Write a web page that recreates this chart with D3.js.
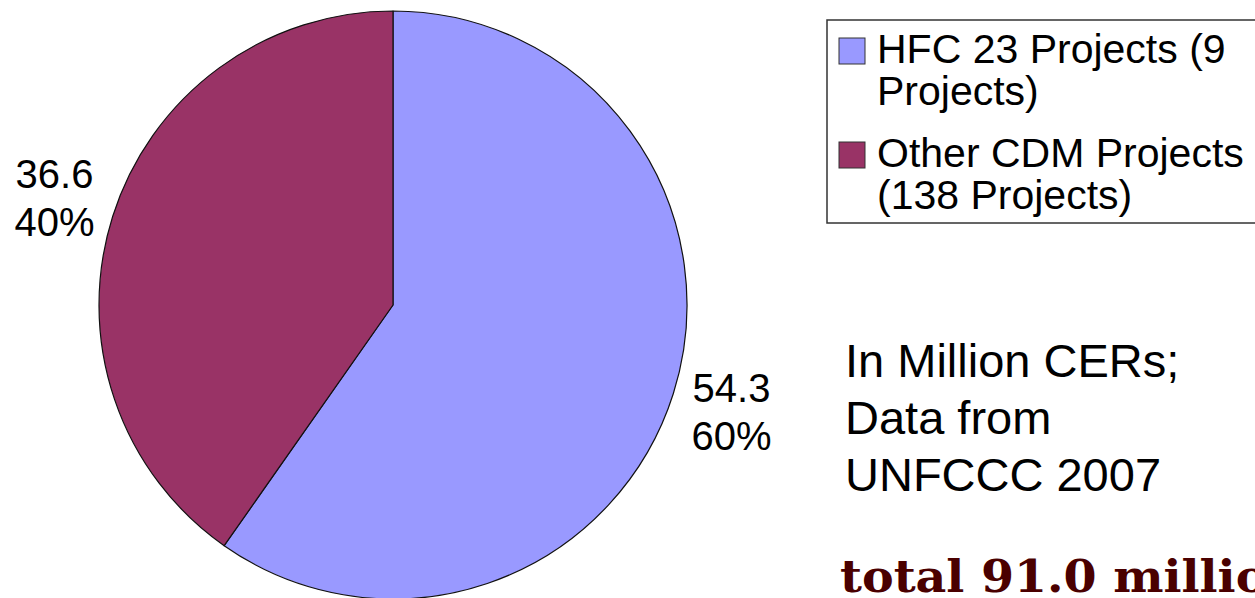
<!DOCTYPE html>
<html>
<head>
<meta charset="utf-8">
<script src="https://cdn.jsdelivr.net/npm/d3@7"></script>
<style>
  html, body { margin: 0; padding: 0; background: #fff; }
  svg { display: block; }
</style>
</head>
<body>
<div id="chart"></div>
<script>
// Datos del gráfico
const categories = ['HFC 23 Projects (9 Projects)', 'Other CDM Projects (138 Projects)'];
const values = [54.3, 36.6];
const colors = ['#9999FF', '#993366'];
const legendLines = [['HFC 23 Projects (9', 'Projects)'], ['Other CDM Projects', '(138 Projects)']];
const noteLines = ['In Million CERs;', 'Data from', 'UNFCCC 2007'];
const totalLabel = 'total 91.0 million';

const width = 1255;
const height = 598;
const fontSans = '"Liberation Sans", Arial, sans-serif';

const svg = d3.select('#chart')
    .append('svg')
    .attr('width', width)
    .attr('height', height);

svg.append('rect')
    .attr('width', width)
    .attr('height', height)
    .attr('fill', '#fff');

// Pastel
const cx = 393, cy = 305, radius = 294;
const total = d3.sum(values);
const pct = d3.format('.0%');

const pie = d3.pie().sort(null).value(d => d)(values);
const arc = d3.arc().innerRadius(0).outerRadius(radius);
const labelArc = d3.arc().innerRadius(355).outerRadius(355);

const g = svg.append('g').attr('transform', `translate(${cx},${cy})`);

g.selectAll('path')
    .data(pie)
    .enter()
    .append('path')
    .attr('d', arc)
    .attr('fill', (d, i) => colors[i])
    .attr('stroke', '#111')
    .attr('stroke-width', 1.2)
    .attr('stroke-linejoin', 'round');

// Etiquetas de valores
const labels = g.selectAll('text.label')
    .data(pie)
    .enter()
    .append('text')
    .attr('class', 'label')
    .attr('transform', d => `translate(${labelArc.centroid(d)})`)
    .attr('text-anchor', 'middle')
    .attr('font-family', fontSans)
    .attr('font-size', 40)
    .attr('fill', '#000');

labels.append('tspan')
    .attr('x', 0)
    .attr('y', -10)
    .text(d => d.value.toFixed(1));

labels.append('tspan')
    .attr('x', 0)
    .attr('y', 38)
    .text(d => pct(d.value / total));

// Leyenda
const legend = svg.append('g');

legend.append('rect')
    .attr('x', 827)
    .attr('y', 20)
    .attr('width', 460)
    .attr('height', 203)
    .attr('fill', '#fff')
    .attr('stroke', '#333')
    .attr('stroke-width', 1.5);

const entries = legend.selectAll('g.entry')
    .data(categories)
    .enter()
    .append('g')
    .attr('class', 'entry')
    .attr('transform', (d, i) => `translate(0,${i * 104})`);

entries.append('rect')
    .attr('x', 839)
    .attr('y', 38)
    .attr('width', 26)
    .attr('height', 26)
    .attr('fill', (d, i) => colors[i])
    .attr('stroke', '#333')
    .attr('stroke-width', 1);

entries.append('text')
    .attr('font-family', fontSans)
    .attr('font-size', 41)
    .attr('fill', '#000')
    .selectAll('tspan')
    .data((d, i) => legendLines[i])
    .enter()
    .append('tspan')
    .attr('x', 877)
    .attr('y', (d, j) => 63 + j * 42)
    .text(d => d);

// Nota a la derecha
svg.append('text')
    .attr('font-family', fontSans)
    .attr('font-size', 47)
    .attr('fill', '#000')
    .selectAll('tspan')
    .data(noteLines)
    .enter()
    .append('tspan')
    .attr('x', 845)
    .attr('y', (d, i) => 377 + i * 57)
    .text(d => d);

// Total (fuente ancha, se estira un poco en horizontal)
svg.append('text')
    .attr('transform', 'translate(840,592) scale(1.08,1)')
    .attr('font-family', '"DejaVu Serif", serif')
    .attr('font-weight', 'bold')
    .attr('font-size', 44)
    .attr('fill', '#4a0000')
    .text(totalLabel);
</script>
</body>
</html>
